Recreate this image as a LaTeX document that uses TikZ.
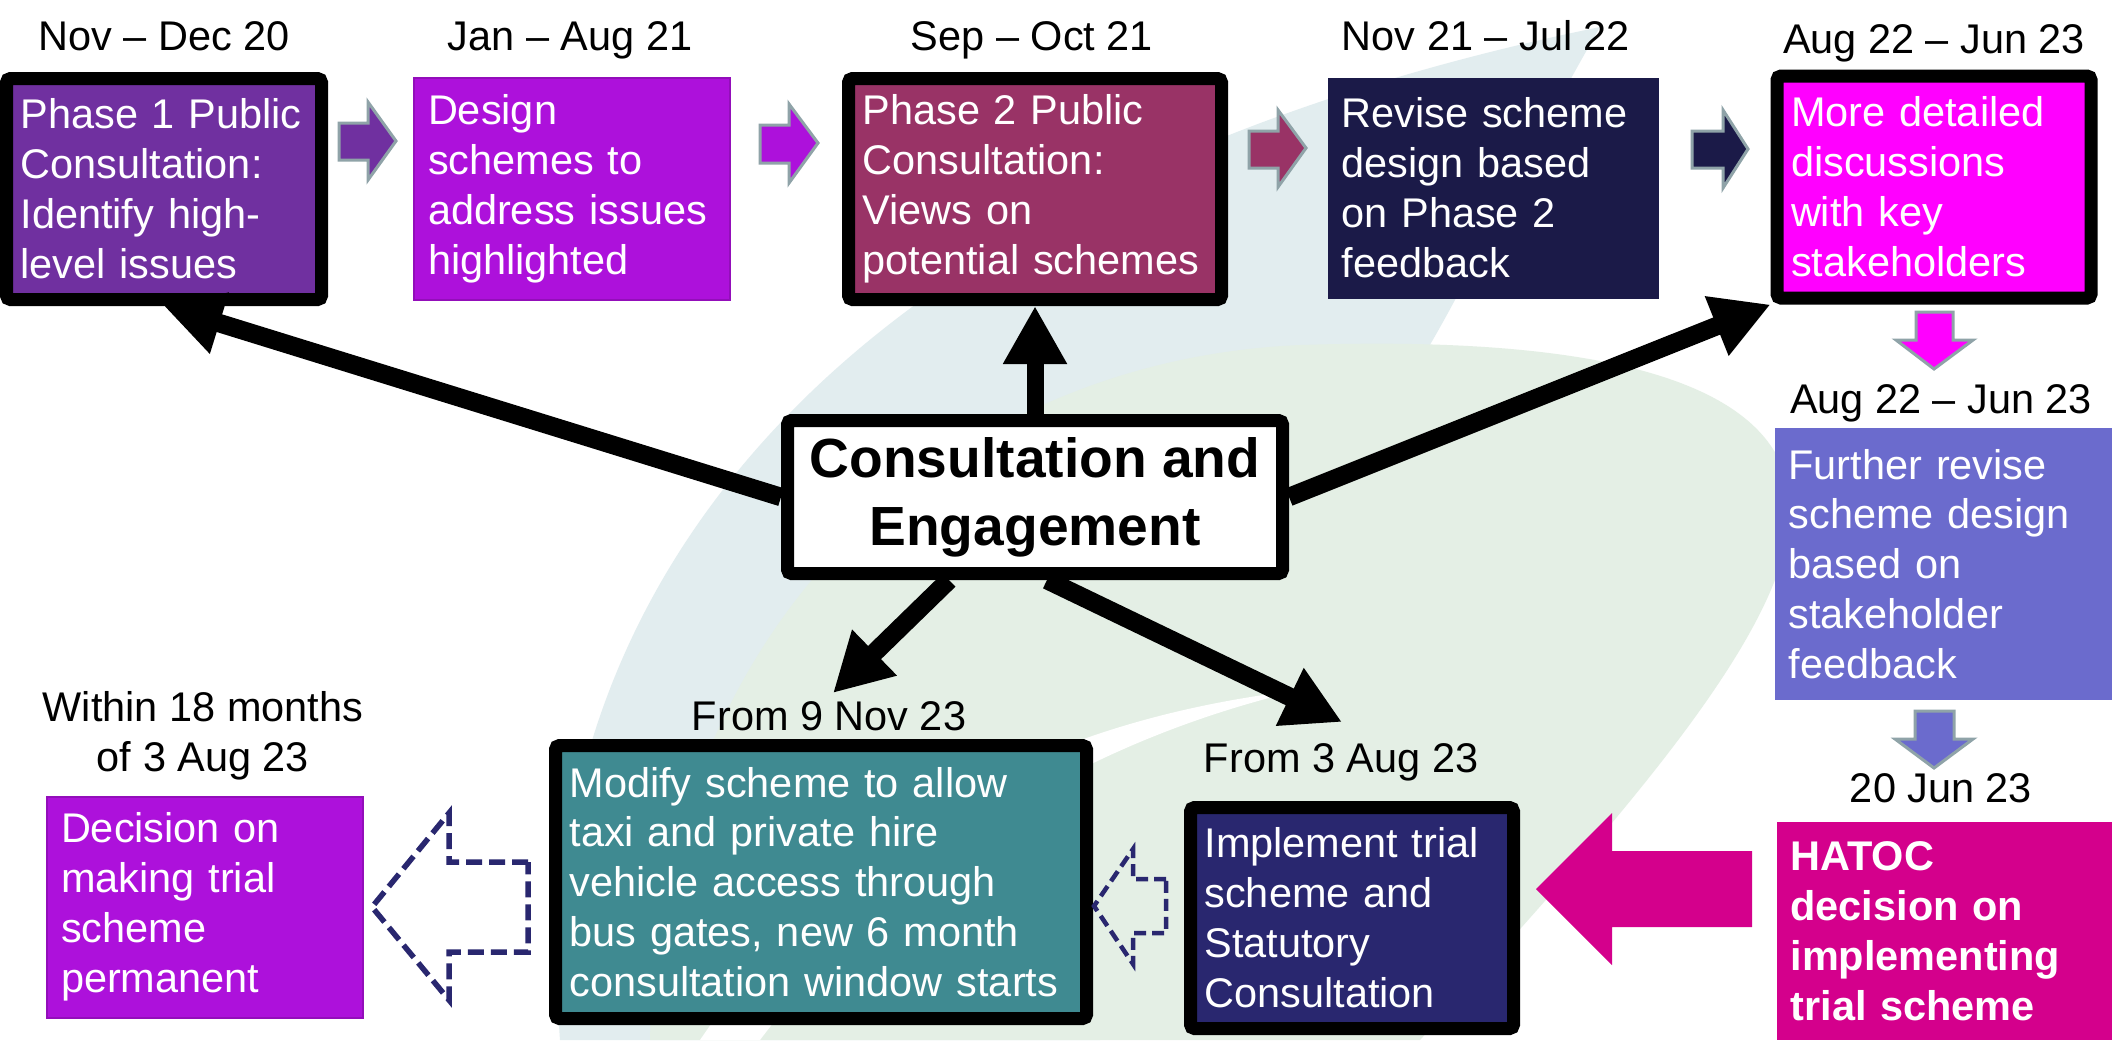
\documentclass[tikz,border=0pt]{standalone}
\usepackage{fontspec}
\setmainfont{Liberation Sans}
\usetikzlibrary{arrows.meta,calc}

\definecolor{phaseone}{HTML}{7030A0}
\definecolor{designc}{HTML}{AD11DB}
\definecolor{phasetwo}{HTML}{993366}
\definecolor{revisec}{HTML}{1B1A48}
\definecolor{detailc}{HTML}{FF00FF}
\definecolor{furtherc}{HTML}{6B6BCD}
\definecolor{hatocc}{HTML}{D4008C}
\definecolor{implc}{HTML}{29276F}
\definecolor{modifyc}{HTML}{3F8A91}
\definecolor{edgegray}{HTML}{8FA3A8}
\definecolor{leafblue}{HTML}{E2EDEF}
\definecolor{leafgreen}{HTML}{E4EFE5}

\begin{document}
\begin{tikzpicture}
  [x=0.1mm,y=-0.1mm,
   every node/.style={font=\fontsize{11.8}{14.2}\selectfont},
   stage/.style n args={3}{rectangle,fill=#1,text=white,align=left,
     inner xsep=1.4mm,inner ysep=0pt,text width=#2,minimum height=#3},
   framed/.style={draw=black,line width=1.3mm,rounded corners=0.4mm},
   thin/.style={draw=#1!85!black,line width=0.2mm},
   date/.style={anchor=base},
   link/.style={line width=1.85mm,-{Triangle[length=5.8mm,width=6mm]}},
   chev/.style={fill=#1,draw=edgegray,line width=0.3mm},
   dashbox/.style={draw=implc,line width=0.55mm,dash pattern=on 1.6mm off 0.7mm}]
  \useasboundingbox (0,0) rectangle (2112,1040);
  \fill[white] (0,0) rectangle (2112,1040);
  \fill[leafblue] (560,1040) .. controls (530,650) and (760,200) .. (1600,27)
    .. controls (1500,200) and (1450,330) .. (1380,420) -- (1100,1040) -- cycle;
  \fill[leafgreen] (650,1040) .. controls (660,620) and (950,360) .. (1300,345)
    .. controls (1600,335) and (1800,380) .. (1790,520)
    .. controls (1780,640) and (1620,820) .. (1420,1040) -- cycle;
  \fill[white] (700,1040) .. controls (850,820) and (1050,720) .. (1300,690)
    .. controls (1050,750) and (880,880) .. (760,1040) -- cycle;

  \node[date] (dph1) at (164,50) {Nov – Dec 20};
  \node[date] (ddesign) at (570,50) {Jan – Aug 21};
  \node[date] (dph2) at (1032,50) {Sep – Oct 21};
  \node[date] (drevise) at (1486,50) {Nov 21 – Jul 22};
  \node[date] (ddetail) at (1934,53) {Aug 22 – Jun 23};
  \node[date] (dfurther) at (1941,413) {Aug 22 – Jun 23};
  \node[date] (dhatoc) at (1941,802) {20 Jun 23};
  \node[date] (dimpl) at (1341,772) {From 3 Aug 23};
  \node[date] (dmodify) at (829,730) {From 9 Nov 23};
  \node[date,align=center] (ddecide) at (203,771) {Within 18 months\\of 3 Aug 23};

  \node[stage={phaseone}{28.7mm}{22.1mm},framed] (ph1) at (164,189)
    {Phase 1 Public\\Consultation:\\Identify high-\\level issues};
  \node[stage={designc}{28.8mm}{22.2mm},thin=designc] (design) at (572,189)
    {Design\\schemes to\\address issues\\highlighted};
  \node[stage={phasetwo}{34.5mm}{22.1mm},framed] (ph2) at (1035,189)
    {Phase 2 Public\\Consultation:\\Views on\\potential schemes};
  \node[stage={revisec}{30.3mm}{22.1mm}] (revise) at (1493,188)
    {Revise scheme\\design based\\on Phase 2\\feedback};
  \node[stage={detailc}{28.6mm}{22.2mm},framed] (detail) at (1934,187)
    {More detailed\\discussions\\with key\\stakeholders};
  \node[stage={furtherc}{30.9mm}{27.2mm}] (further) at (1943,564)
    {Further revise\\scheme design\\based on\\stakeholder\\feedback};
  \node[stage={hatocc}{30.7mm}{21.8mm},font=\fontsize{11.8}{14.2}\selectfont\bfseries] (hatoc) at (1944,931)
    {HATOC\\decision on\\implementing\\trial scheme};
  \node[stage={implc}{29.5mm}{22.1mm},framed] (impl) at (1352,918)
    {Implement trial\\scheme and\\Statutory\\Consultation};
  \node[stage={modifyc}{50.3mm}{27.3mm},framed] (modify) at (821,882)
    {Modify scheme to allow\\taxi and private hire\\vehicle access through\\bus gates, new 6 month\\consultation window starts};
  \node[stage={designc}{28.8mm}{22.1mm},thin=designc] (decide) at (205,907)
    {Decision on\\making trial\\scheme\\permanent};

  \node[framed,fill=white,align=center,minimum width=49.5mm,minimum height=15.3mm,
    inner sep=0pt,font=\fontsize{15.7}{19.3}\selectfont\bfseries] (ce) at (1035,497)
    {Consultation and\\Engagement};

  \draw[chev=phaseone] (339,123) -- (368,123) -- (368,102) -- (396,141) -- (368,180) -- (368,160) -- (339,160) -- cycle;
  \draw[chev=designc] (760,125) -- (789,125) -- (789,104) -- (818,143) -- (789,183) -- (789,163) -- (760,163) -- cycle;
  \draw[chev=phasetwo] (1249,131) -- (1278,131) -- (1278,110) -- (1306,148) -- (1278,187) -- (1278,168) -- (1249,168) -- cycle;
  \draw[chev=revisec] (1692,131) -- (1723,131) -- (1723,110) -- (1748,149) -- (1723,188) -- (1723,168) -- (1692,168) -- cycle;
  \draw[chev=detailc] (1916,312) -- (1953,312) -- (1953,340) -- (1973,340) -- (1934,369) -- (1896,340) -- (1916,340) -- cycle;
  \draw[chev=furtherc] (1915,711) -- (1954,711) -- (1954,739) -- (1973,739) -- (1934,768) -- (1895,739) -- (1915,739) -- cycle;
  \fill[hatocc] (1752,851) -- (1612,851) -- (1612,813) -- (1536,889) -- (1612,965) -- (1612,927) -- (1752,927) -- cycle;
  \draw[dashbox,line width=0.45mm,dash pattern=on 1.2mm off 0.6mm] (1166,879) -- (1133,879) -- (1133,849) -- (1094,906) -- (1133,964) -- (1133,933) -- (1166,933) -- cycle;
  \draw[dashbox] (528,862) -- (449,862) -- (449,813) -- (372,907) -- (449,1000) -- (449,952) -- (528,952) -- cycle;

  \coordinate (tmodify) at (833,693);
  \coordinate (timpl) at (1342,722);
  \draw[link] (ce.west) -- (ph1.south);
  \draw[link,line width=1.7mm] (ce.north) -- (ph2.south);
  \draw[link] (ce.east) -- (detail.south west);
  \draw[link] ($(ce.south)+(-86,0)$) -- (tmodify);
  \draw[link] ($(ce.south)+(12,0)$) -- (timpl);
\end{tikzpicture}
\end{document}
